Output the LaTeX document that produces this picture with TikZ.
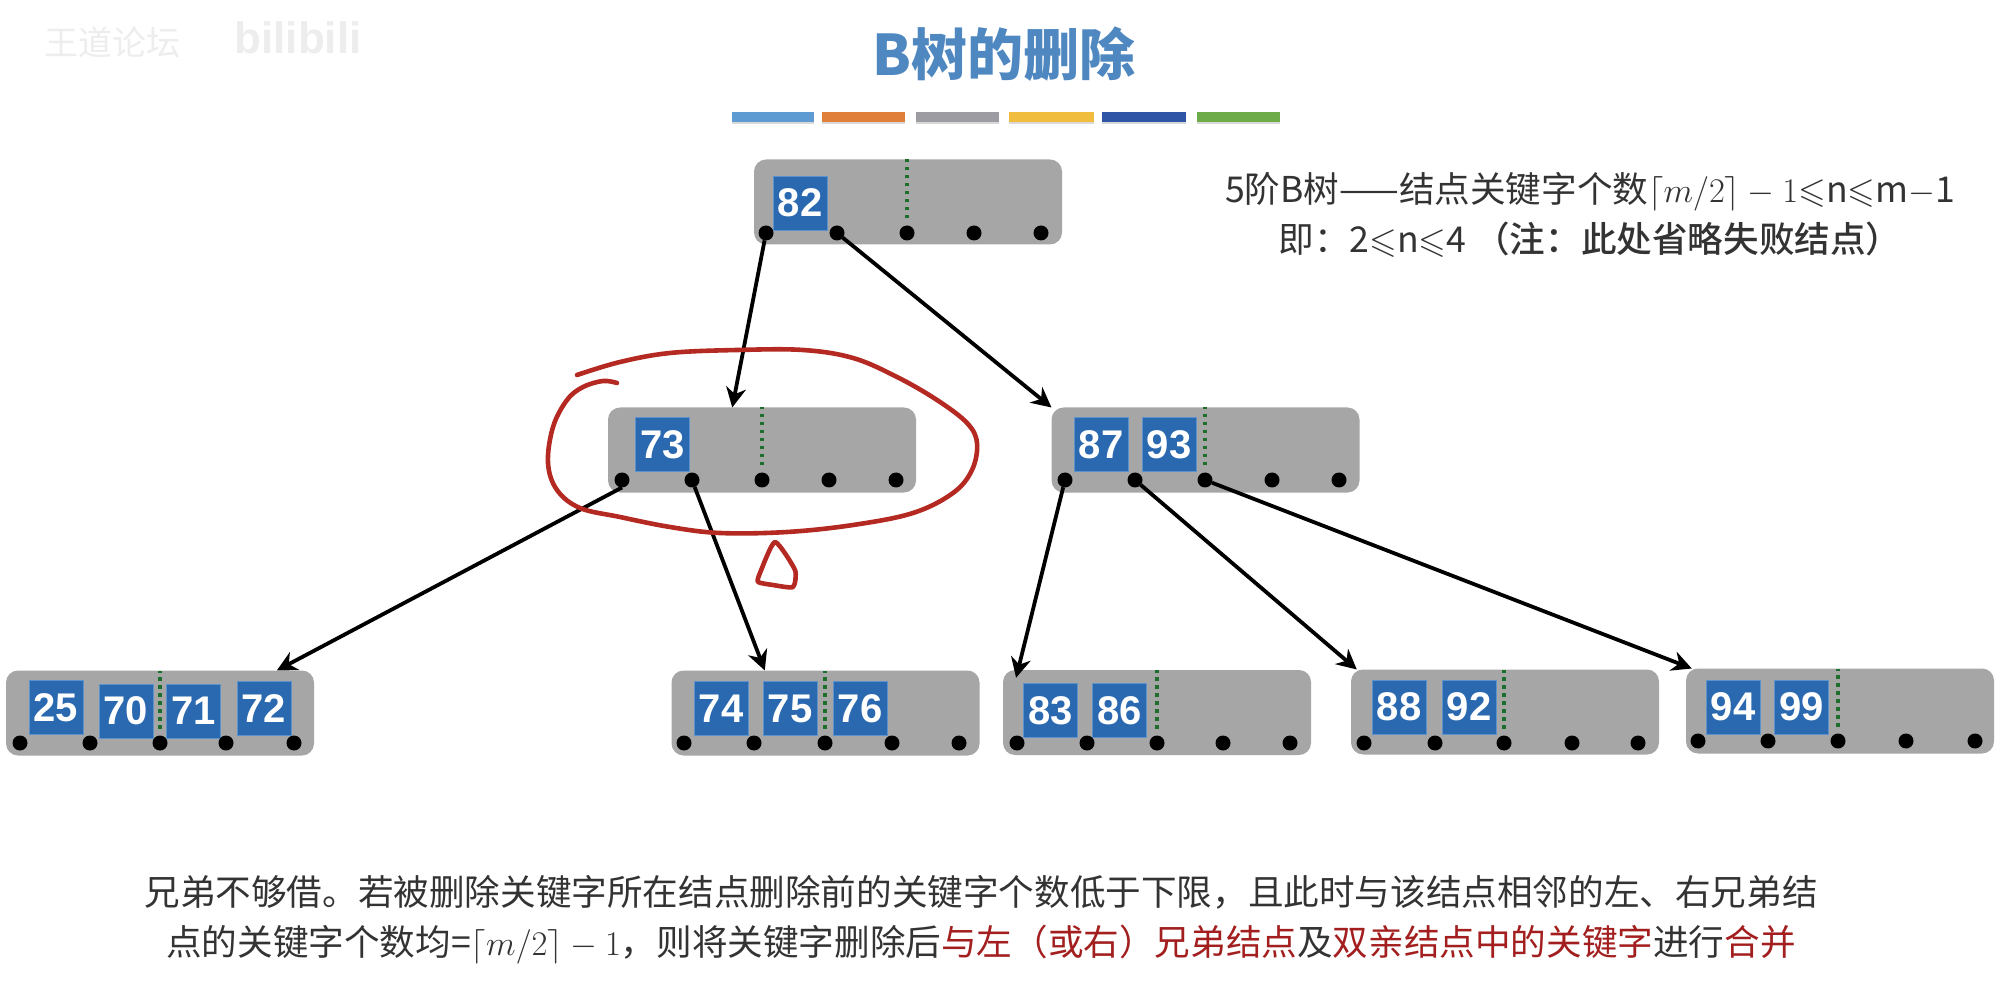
\documentclass[tikz,border=0pt]{standalone}
\usepackage{fontspec}
\usepackage{amsmath}
\usepackage{amssymb}
\usepackage{xcolor}
\setmainfont{Noto Sans CJK SC}
\newfontfamily\keyfont{Liberation Sans}
\newfontfamily\medfont{Noto Sans CJK SC Medium}
\usetikzlibrary{arrows.meta, shadows}
\definecolor{btgray}{HTML}{A6A6A6}
\definecolor{btblue}{HTML}{2A69B0}
\definecolor{btedge}{HTML}{5C93CC}
\definecolor{btgreen}{HTML}{1B6E2C}
\definecolor{bttitle}{HTML}{4F88C0}
\definecolor{bttext}{HTML}{333333}
\definecolor{btred}{HTML}{A31F1F}
\definecolor{btpen}{HTML}{B42A22}
\definecolor{barone}{HTML}{5F9BD3}
\definecolor{bartwo}{HTML}{E07F3A}
\definecolor{barthree}{HTML}{9C9CA2}
\definecolor{barfour}{HTML}{F0BD3F}
\definecolor{barfive}{HTML}{2F56A6}
\definecolor{barsix}{HTML}{6CAB47}

\begin{document}
\begin{tikzpicture}[
  x=0.5pt,y=-0.5pt,
  btnode/.style={rectangle, fill=btgray, rounded corners=6pt, minimum width=154pt, minimum height=42.5pt, inner sep=0pt, outer sep=0pt},
  keybox/.style={rectangle, fill=btblue, draw=btedge, line width=0.4pt, minimum size=27pt, inner sep=0pt, text=white, font=\keyfont\bfseries\fontsize{20}{22}\selectfont},
  ptr/.style={circle, fill=black, minimum size=7.5pt, inner sep=0pt, outer sep=0pt},
  bar/.style={rectangle, minimum height=5pt, inner sep=0pt, drop shadow={opacity=.3, shadow xshift=0pt, shadow yshift=-1pt}},
  link/.style={-{Stealth[length=10pt,width=10pt]}, line width=1.9pt, black},
  split/.style={line width=1.8pt, btgreen, dash pattern=on 1.6pt off 2.4pt, shorten <=3.5pt},
  pen/.style={line width=2.3pt, btpen, line cap=round, line join=round},
  bodytext/.style={text=bttext, align=center, font=\fontsize{17.8}{25}\selectfont},
]
\useasboundingbox (0,0) rectangle (2011,999);
% heading
\node[text=black!7, font=\fontsize{17}{20}\selectfont] (mark1) at (112,42) {王道论坛};
\node[text=black!7, font=\keyfont\bfseries\fontsize{22}{24}\selectfont] (mark2) at (298,38) {bilibili};
\node[text=bttitle, font=\bfseries\fontsize{28}{32}\selectfont] (title) at (1004,54) {B树的删除};
\node[bar, fill=barone, minimum width=41pt] (b1) at (773,117) {};
\node[bar, fill=bartwo, minimum width=41.5pt] (b2) at (863.5,117) {};
\node[bar, fill=barthree, minimum width=41.5pt] (b3) at (957.5,117) {};
\node[bar, fill=barfour, minimum width=42.5pt] (b4) at (1051.5,117) {};
\node[bar, fill=barfive, minimum width=42pt] (b5) at (1144,117) {};
\node[bar, fill=barsix, minimum width=41.5pt] (b6) at (1238.5,117) {};
\node[bodytext] (rule) at (1590,215) {5阶B树——结点关键字个数$\lceil m/2\rceil-1$$\leqslant$n$\leqslant$m$-$1\\即：2$\leqslant$n$\leqslant$4 {\medfont（注：此处省略失败结点）}};

% tree nodes
\node[btnode] (n82) at (908,202) {};
\node[btnode] (n73) at (762,450) {};
\node[btnode] (n87) at (1205.5,450) {};
\node[btnode] (n25) at (160,713) {};
\node[btnode] (n74) at (825.5,713) {};
\node[btnode] (n83) at (1157,712.5) {};
\node[btnode] (n88) at (1505,712) {};
\node[btnode] (n94) at (1840,711) {};

% keys
\node[keybox] (k82) at (800,203) {82};
\node[keybox] (k73) at (662.5,444.5) {73};
\node[keybox] (k87) at (1101,444.5) {87};
\node[keybox] (k93) at (1169,444.5) {93};
\node[keybox] (k25) at (56,707.5) {25};
\node[keybox] (k70) at (126,711) {70};
\node[keybox] (k71) at (193.5,711) {71};
\node[keybox] (k72) at (264,708.5) {72};
\node[keybox] (k74) at (721,708.5) {74};
\node[keybox] (k75) at (790,708.5) {75};
\node[keybox] (k76) at (860,708.5) {76};
\node[keybox] (k83) at (1050.5,710.5) {83};
\node[keybox] (k86) at (1119.5,710.5) {86};
\node[keybox] (k88) at (1399,707) {88};
\node[keybox] (k92) at (1469,707) {92};
\node[keybox] (k94) at (1733,707) {94};
\node[keybox] (k99) at (1801.5,707) {99};

% pointers
\node[ptr] (p82a) at (766,233) {};\node[ptr] (p82b) at (837,233) {};\node[ptr] (p82c) at (907,233) {};\node[ptr] (p82d) at (974,233) {};\node[ptr] (p82e) at (1041,233) {};
\node[ptr] (p73a) at (622,480) {};\node[ptr] (p73b) at (692,480) {};\node[ptr] (p73c) at (762,480) {};\node[ptr] (p73d) at (829,480) {};\node[ptr] (p73e) at (896,480) {};
\node[ptr] (p87a) at (1065,480) {};\node[ptr] (p87b) at (1135,480) {};\node[ptr] (p87c) at (1205,480) {};\node[ptr] (p87d) at (1272,480) {};\node[ptr] (p87e) at (1339,480) {};
\node[ptr] (p25a) at (20,743) {};\node[ptr] (p25b) at (90,743) {};\node[ptr] (p25c) at (160,743) {};\node[ptr] (p25d) at (226,743) {};\node[ptr] (p25e) at (294,743) {};
\node[ptr] (p74a) at (684,743) {};\node[ptr] (p74b) at (754,743) {};\node[ptr] (p74c) at (825,743) {};\node[ptr] (p74d) at (892,743) {};\node[ptr] (p74e) at (959,743) {};
\node[ptr] (p83a) at (1017,743) {};\node[ptr] (p83b) at (1087,743) {};\node[ptr] (p83c) at (1157,743) {};\node[ptr] (p83d) at (1223,743) {};\node[ptr] (p83e) at (1290,743) {};
\node[ptr] (p88a) at (1364,743) {};\node[ptr] (p88b) at (1435,743) {};\node[ptr] (p88c) at (1504,743) {};\node[ptr] (p88d) at (1572,743) {};\node[ptr] (p88e) at (1638,743) {};
\node[ptr] (p94a) at (1698,741) {};\node[ptr] (p94b) at (1768,741) {};\node[ptr] (p94c) at (1838,741) {};\node[ptr] (p94d) at (1906,741) {};\node[ptr] (p94e) at (1975,741) {};

% dotted splits
\draw[split] (p82c) -- (p82c |- n82.north);
\draw[split] (p73c) -- (p73c |- n73.north);
\draw[split] (p87c) -- (p87c |- n87.north);
\draw[split] (p25c) -- (p25c |- n25.north);
\draw[split] (p74c) -- (p74c |- n74.north);
\draw[split] (p83c) -- (p83c |- n83.north);
\draw[split] (p88c) -- (p88c |- n88.north);
\draw[split] (p94c) -- (p94c |- n94.north);

% links
\draw[link] (p82a) -- (n73.125);
\draw[link] (p82b) -- (n87.north west);
\draw[link] (p73a.south) -- (n25.20);
\draw[link] (p73b) -- (n74.145);
\draw[link, shorten >=-4pt] (p87a) -- (n83.163);
\draw[link] (p87b) -- (n88.164);
\draw[link] (p87c) -- (n94.164);

% hand marks
\draw[pen] plot[smooth, tension=0.6] coordinates {(577,375) (620,362) (670,353) (737,350) (803,350) (853,358) (897,377) (937,400) (967,423) (977,443) (972,470) (953,493) (913,513) (853,525) (787,532) (720,533) (670,527) (620,517) (580,508) (557,490) (548,463) (553,427) (567,400) (583,387) (603,381) (617,383)};
\draw[pen] plot[smooth cycle, tension=0.35] coordinates {(775,542) (795,570) (793,587) (773,585) (758,582) (760,573)};

% bottom text
\node[bodytext] (note) at (981,920) {兄弟不够借。若被删除关键字所在结点删除前的关键字个数低于下限，且此时与该结点相邻的左、右兄弟结\\点的关键字个数均=$\lceil m/2\rceil-1$，则将关键字删除后\textcolor{btred}{与左（或右）兄弟结点}及\textcolor{btred}{双亲结点中的关键字}进行\textcolor{btred}{合并}};
\end{tikzpicture}
\end{document}
